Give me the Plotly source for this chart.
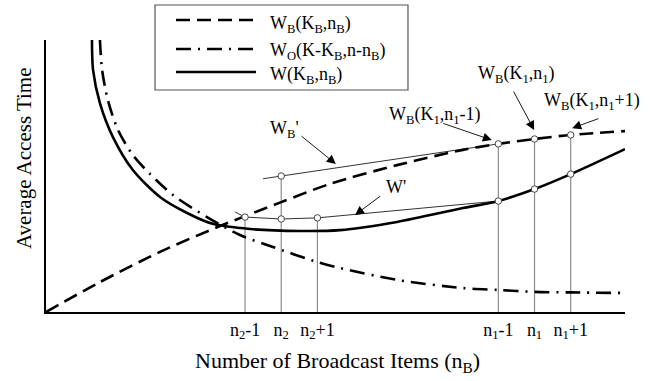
import plotly.graph_objects as go

# ---------------- data (schematic units) ----------------
# tick positions on the n_B axis
tick_vals = [5.5, 6.5, 7.5, 12.5, 13.5, 14.5]
tick_text = ["n<sub>2</sub>-1", "n<sub>2</sub>", "n<sub>2</sub>+1",
             "n<sub>1</sub>-1", "n<sub>1</sub>", "n<sub>1</sub>+1"]

# W_B(K_B, n_B)  (dashed)
wb_x = [0, 1.49, 3.15, 4.81, 6.5, 7.85, 9.7, 11.52, 12.5, 13.5, 14.5, 16.0]
wb_y = [0, 1.10, 2.21, 3.16, 4.04, 4.71, 5.40, 5.96, 6.18, 6.36, 6.51, 6.65]

# W_O(K-K_B, n-n_B)  (dash-dot)
wo_x = [1.49, 1.55, 1.71, 1.99, 2.40, 2.87, 3.51, 4.45, 5.36, 6.27, 7.49,
        8.12, 9.70, 11.52, 12.5, 13.5, 14.5, 16.0]
wo_y = [10.0, 8.90, 7.79, 6.69, 5.77, 5.08, 4.30, 3.49, 2.83, 2.39, 1.84,
        1.62, 1.18, 0.88, 0.81, 0.74, 0.72, 0.70]

# W(K_B, n_B)  (solid)
w_x = [1.27, 1.30, 1.49, 1.85, 2.40, 3.15, 3.90, 4.61, 5.64, 7.02, 8.12,
       9.70, 11.52, 12.5, 13.5, 14.5, 16.0]
w_y = [10.0, 8.90, 7.68, 6.43, 5.22, 4.23, 3.64, 3.24, 3.05, 2.98, 3.01,
       3.31, 3.82, 4.08, 4.52, 5.07, 5.99]

# W' (thin line through the points around n2, joined to W at n1-1)
wp_x = [5.22, 5.5, 6.5, 7.5, 12.5]
wp_y = [3.68, 3.49, 3.42, 3.46, 4.08]

# W_B' (thin line through W_B' at n2 and W_B at n1-1)
wbp_x = [6.0, 6.5, 12.5]
wbp_y = [4.90, 5.00, 6.18]

legend_names = ["W<sub>B</sub>(K<sub>B</sub>,n<sub>B</sub>)",
                "W<sub>O</sub>(K-K<sub>B</sub>,n-n<sub>B</sub>)",
                "W(K<sub>B</sub>,n<sub>B</sub>)"]

FONT = "Liberation Serif, Times New Roman, serif"
DASH = "14px,7px"
DASHDOT = "15px,7px,2px,7px"

fig = go.Figure()

# ---- vertical guide lines (from axis up to the marked points) ----
guide_x = [wp_x[1], wbp_x[1], wp_x[3], wb_x[8], wb_x[9], wb_x[10]]
guide_y = [wp_y[1], wbp_y[1], wp_y[3], wb_y[8], wb_y[9], wb_y[10]]
for gx, gy in zip(guide_x, guide_y):
    fig.add_trace(go.Scatter(x=[gx, gx], y=[0, gy], mode="lines",
                             line=dict(color="#8c8c8c", width=1.2),
                             hoverinfo="skip", showlegend=False))

# ---- thin construction lines ----
fig.add_trace(go.Scatter(x=wbp_x, y=wbp_y, mode="lines",
                         line=dict(color="#333333", width=1),
                         showlegend=False))
fig.add_trace(go.Scatter(x=wp_x, y=wp_y, mode="lines",
                         line=dict(color="#333333", width=1),
                         showlegend=False))

# ---- main curves ----
fig.add_trace(go.Scatter(x=wb_x, y=wb_y, mode="lines", name=legend_names[0],
                         line=dict(color="black", width=2.6, dash=DASH,
                                   shape="spline", smoothing=0.8),
                         showlegend=False))
fig.add_trace(go.Scatter(x=wo_x, y=wo_y, mode="lines", name=legend_names[1],
                         line=dict(color="black", width=2.6, dash=DASHDOT,
                                   shape="spline", smoothing=0.8),
                         showlegend=False))
fig.add_trace(go.Scatter(x=w_x, y=w_y, mode="lines", name=legend_names[2],
                         line=dict(color="black", width=2.6,
                                   shape="spline", smoothing=0.8),
                         showlegend=False))

# ---- open circle markers ----
mk_x = [wp_x[1], wp_x[2], wp_x[3], wbp_x[1],
        wb_x[8], wb_x[9], wb_x[10], w_x[13], w_x[14], w_x[15]]
mk_y = [wp_y[1], wp_y[2], wp_y[3], wbp_y[1],
        wb_y[8], wb_y[9], wb_y[10], w_y[13], w_y[14], w_y[15]]
fig.add_trace(go.Scatter(x=mk_x, y=mk_y, mode="markers",
                         marker=dict(symbol="circle", size=6.5, color="white",
                                     line=dict(color="#444444", width=1)),
                         showlegend=False, cliponaxis=False))

# ---- annotations: labels ----
labels = [
    ("W<sub>B</sub>'", 6.60, 6.70),
    ("W'", 9.67, 4.60),
    ("W<sub>B</sub>(K<sub>1</sub>,n<sub>1</sub>-1)", 10.75, 7.24),
    ("W<sub>B</sub>(K<sub>1</sub>,n<sub>1</sub>)", 12.99, 8.72),
    ("W<sub>B</sub>(K<sub>1</sub>,n<sub>1</sub>+1)", 15.09, 7.73),
]
annotations = []
for t, lx, ly in labels:
    annotations.append(dict(text=t, x=lx, y=ly, xref="x", yref="y",
                            showarrow=False, xanchor="center", yanchor="middle",
                            font=dict(family=FONT, size=18, color="black")))

# ---- arrows (tail -> head) ----
arrows = [
    (7.02, 6.51, 8.01, 5.44),
    (9.28, 4.30, 8.54, 3.57),
    (10.94, 6.95, 12.32, 6.32),
    (12.90, 8.16, 13.49, 6.69),
    (15.31, 7.13, 14.54, 6.76),
]
for tx, ty, hx, hy in arrows:
    annotations.append(dict(text="", x=hx, y=hy, ax=tx, ay=ty,
                            xref="x", yref="y", axref="x", ayref="y",
                            showarrow=True, arrowhead=2, arrowsize=2.0,
                            arrowwidth=0.9, arrowcolor="black", standoff=0))

# ---- axis titles ----
annotations.append(dict(text="Number of Broadcast Items (n<sub>B</sub>)",
                        x=0.503, y=-0.184, xref="paper", yref="paper",
                        showarrow=False, xanchor="center", yanchor="middle",
                        font=dict(family=FONT, size=22, color="black")))
annotations.append(dict(text="Average Access Time", textangle=-90,
                        x=-0.038, y=0.566, xref="paper", yref="paper",
                        showarrow=False, xanchor="center", yanchor="middle",
                        font=dict(family=FONT, size=21, color="black")))

# ---- manual legend ----
shapes = [dict(type="rect", xref="paper", yref="paper",
               x0=0.1883, x1=0.6252, y0=0.8162, y1=1.1287,
               line=dict(color="#555555", width=1.2), fillcolor="white",
               layer="above")]
leg_line_y = [1.0735, 0.9669, 0.8824]
leg_text_y = [1.0588, 0.9559, 0.8713]
leg_dash = [DASH, DASHDOT, "solid"]
for name, ly, ty, d in zip(legend_names, leg_line_y, leg_text_y, leg_dash):
    shapes.append(dict(type="line", xref="paper", yref="paper",
                       x0=0.2245, x1=0.3627, y0=ly, y1=ly,
                       line=dict(color="black", width=2.6, dash=d),
                       layer="above"))
    annotations.append(dict(text=name, x=0.3834, y=ty, xref="paper",
                            yref="paper", showarrow=False, xanchor="left",
                            yanchor="middle",
                            font=dict(family=FONT, size=18, color="black")))

fig.update_layout(
    width=650, height=381,
    margin=dict(l=46, r=25, t=40, b=69),
    paper_bgcolor="white", plot_bgcolor="white",
    font=dict(family=FONT, size=18, color="black"),
    showlegend=False,
    shapes=shapes,
    annotations=annotations,
    xaxis=dict(range=[0, 16], showgrid=False, zeroline=False,
               showline=True, linecolor="black", linewidth=2.2,
               tickmode="array", tickvals=tick_vals, ticktext=tick_text,
               ticks="", tickfont=dict(family=FONT, size=18, color="black")),
    yaxis=dict(range=[0, 10], showgrid=False, zeroline=False,
               showline=True, linecolor="black", linewidth=2.2,
               showticklabels=False, ticks=""),
)

fig.write_html("out.html")
